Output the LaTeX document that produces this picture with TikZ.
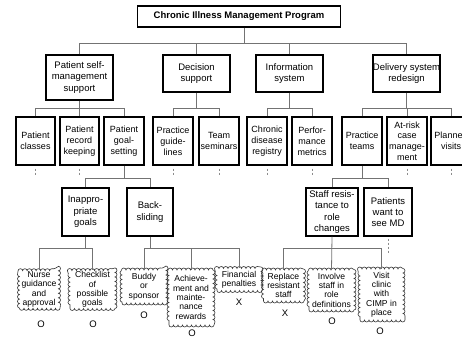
\documentclass[tikz,border=0pt]{standalone}
\usepackage{fontspec}
\setmainfont{Liberation Sans}
\usetikzlibrary{decorations.pathmorphing}
\begin{document}
\begin{tikzpicture}[x=1pt,y=-1pt,
  box/.style={draw=black, line width=1.4pt, fill=white, align=center, inner sep=0pt, font=\fontsize{9}{10.8}\selectfont},
  topbox/.style={box, font=\fontsize{9.5}{11}\selectfont\bfseries},
  lvtwo/.style={box, font=\fontsize{9.5}{11.3}\selectfont},
  lvfour/.style={box, font=\fontsize{9.5}{11.3}\selectfont},
  conn/.style={draw=black!55, line width=0.8pt},
  stub/.style={draw=black!45, line width=0.7pt, dash pattern=on 2.5pt off 1.5pt},
  cloudbox/.style={draw=black!80, line width=0.6pt, align=center, inner sep=1pt, decorate, decoration={bumps, mirror, segment length=9pt, amplitude=2pt}, font=\fontsize{8.6}{9.3}\selectfont},
  verdict/.style={font=\fontsize{9.5}{10}\selectfont, inner sep=0pt}
]
\useasboundingbox (0,0) rectangle (462,337);
\clip (0,0) rectangle (462,337);

% top
\node[topbox, minimum width=203pt, minimum height=21pt] (top) at (239,16.5) {Chronic Illness Management Program};

% level 2
\node[lvtwo, minimum width=67pt, minimum height=45pt] (psm) at (79.5,77.5) {Patient self-\\management\\support};
\node[lvtwo, minimum width=67pt, minimum height=37pt] (ds) at (196.5,73.5) {Decision\\support};
\node[lvtwo, minimum width=67pt, minimum height=37pt] (is) at (289.5,73.5) {Information\\system};
\node[lvtwo, minimum width=67pt, minimum height=37pt] (dsr) at (406.5,73.5) {Delivery system\\redesign};

% level 3
\node[box, minimum width=39pt, minimum height=48pt] (pc) at (35.5,141) {Patient\\classes};
\node[box, minimum width=39pt, minimum height=48pt] (prk) at (79.5,141) {Patient\\record\\keeping};
\node[box, minimum width=40pt, minimum height=48pt] (pgs) at (124,141) {Patient\\goal-\\setting};
\node[box, minimum width=40pt, minimum height=48pt] (pg) at (173,141) {Practice\\guide-\\lines};
\node[box, minimum width=40pt, minimum height=48pt] (ts) at (219,141) {Team\\seminars};
\node[box, minimum width=40pt, minimum height=48pt] (cdr) at (267,141) {Chronic\\disease\\registry};
\node[box, minimum width=40pt, minimum height=48pt] (pm) at (312,141) {Perfor-\\mance\\metrics};
\node[box, minimum width=40pt, minimum height=48pt] (pt) at (362,141) {Practice\\teams};
\node[box, minimum width=40pt, minimum height=48pt] (arc) at (407,141) {At-risk\\case\\manage-\\ment};
\node[box, minimum width=40pt, minimum height=48pt] (pv) at (451,141) {Planned\\visits};

% level 4
\node[lvfour, minimum width=47pt, minimum height=48pt] (ig) at (85.5,212) {Inappro-\\priate\\goals};
\node[lvfour, minimum width=46pt, minimum height=48pt] (bs) at (150,212) {Back-\\sliding};
\node[lvfour, minimum width=52pt, minimum height=48pt] (sr) at (332,212) {Staff resis-\\tance to\\role\\changes};
\node[lvfour, minimum width=48pt, minimum height=48pt] (pw) at (388,212) {Patients\\want to\\see MD};

% clouds
\node[cloudbox, minimum width=39pt, minimum height=37pt] (ng) at (39,289.5) {Nurse\\guidance\\and\\approval};
\node[cloudbox, minimum width=45pt, minimum height=37pt] (cl) at (92.5,289.5) {Checklist\\of\\possible\\goals};
\node[cloudbox, minimum width=44pt, minimum height=33pt] (bu) at (144,286.5) {Buddy\\or\\sponsor};
\node[cloudbox, minimum width=44pt, minimum height=55pt] (ach) at (191,297.5) {Achieve-\\ment and\\mainte-\\nance\\rewards};
\node[cloudbox, minimum width=44pt, minimum height=22pt] (fp) at (239,279.5) {Financial\\penalties};
\node[cloudbox, minimum width=40pt, minimum height=31pt] (rr) at (283.5,285.5) {Replace\\resistant\\staff};
\node[cloudbox, minimum width=45pt, minimum height=40pt] (inv) at (331.5,290) {Involve\\staff in\\role\\definitions};
\node[cloudbox, minimum width=43pt, minimum height=51pt] (vc) at (381.5,294.5) {Visit\\clinic\\with\\CIMP in\\place};

% verdicts
\node[verdict] (mng) at (41,324) {O};
\node[verdict] (mcl) at (93,324) {O};
\node[verdict] (mbu) at (144,315) {O};
\node[verdict] (mach) at (192,333) {O};
\node[verdict] (mfp) at (239,302) {X};
\node[verdict] (mrr) at (285,313) {X};
\node[verdict] (minv) at (332,321) {O};
\node[verdict] (mvc) at (380,331) {O};

% bus coordinates
\coordinate (b1) at (0,43);
\coordinate (b2) at (0,108);
\coordinate (b3) at (0,178);
\coordinate (b4) at (0,248);

% connectors level 1-2
\draw[conn] ([xshift=5pt]top.south) -- ([xshift=5pt]top.south |- b1);
\draw[conn] (psm.north) -- (psm.north |- b1) -- (dsr.north |- b1) -- (dsr.north);
\draw[conn] (ds.north) -- (ds.north |- b1);
\draw[conn] (is.north) -- (is.north |- b1);

% level 2-3
\draw[conn] (psm.south) -- (psm.south |- b2);
\draw[conn] (pc.north) -- (pc.north |- b2) -- (pgs.north |- b2) -- (pgs.north);
\draw[conn] (prk.north) -- (prk.north |- b2);
\draw[conn] (ds.south) -- (ds.south |- b2);
\draw[conn] (pg.north) -- (pg.north |- b2) -- (ts.north |- b2) -- (ts.north);
\draw[conn] (is.south) -- (is.south |- b2);
\draw[conn] (cdr.north) -- (cdr.north |- b2) -- (pm.north |- b2) -- (pm.north);
\draw[conn] (dsr.south) -- (dsr.south |- b2);
\draw[conn] (pt.north) -- (pt.north |- b2) -- (pv.north |- b2) -- (pv.north);
\draw[conn] (arc.north) -- (arc.north |- b2);

% stubs under level 3
\foreach \n in {pc,prk,pg,ts,cdr,pm,arc,pv}
  \draw[stub] ([yshift=-3pt]\n.south) -- ([yshift=-9pt]\n.south);

% level 3-4
\draw[conn] (pgs.south) -- (pgs.south |- b3);
\draw[conn] (ig.north) -- (ig.north |- b3) -- (bs.north |- b3) -- (bs.north);
\draw[conn] (pt.south) -- (pt.south |- b3);
\draw[conn] (sr.north) -- (sr.north |- b3) -- (pw.north |- b3) -- (pw.north);

% level 4-5
\draw[conn] (ig.south) -- (ig.south |- b4);
\draw[conn] (ng.north) -- (ng.north |- b4) -- (cl.north |- b4) -- (cl.north);
\draw[conn] (bs.south) -- (bs.south |- b4);
\draw[conn] (bu.north) -- (bu.north |- b4) -- (fp.north |- b4) -- (fp.north);
\draw[conn] (ach.north) -- (ach.north |- b4);
\draw[conn] (sr.south) -- (inv.north);
\draw[conn] (rr.north) -- (rr.north |- b4) -- (vc.north |- b4) -- (vc.north);
\draw[stub] ([yshift=-2pt]pw.south) -- ([yshift=-16pt]pw.south);
\end{tikzpicture}
\end{document}
